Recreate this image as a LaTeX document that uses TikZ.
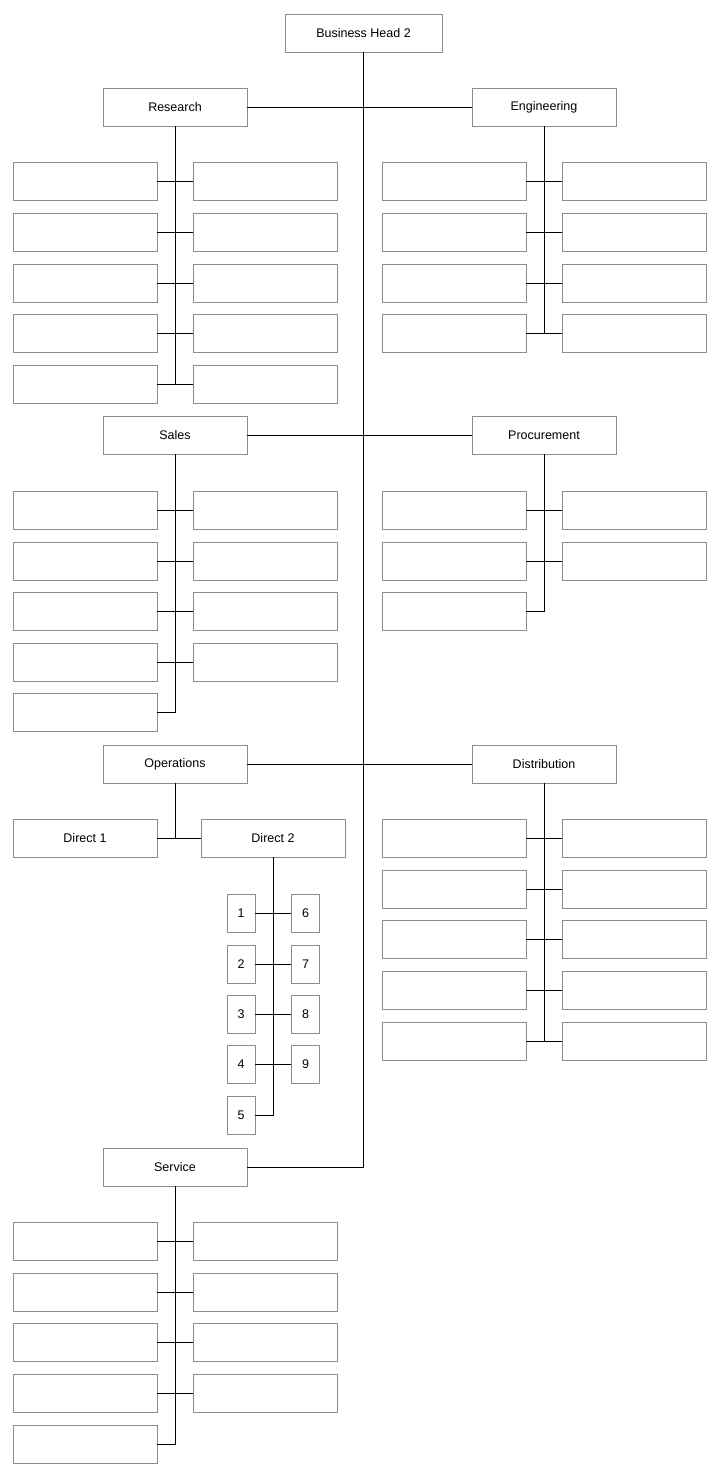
\documentclass[tikz,border=0pt]{standalone}
\usepackage{fontspec}
\setmainfont{Liberation Sans}
\begin{document}
\begin{tikzpicture}[x=1pt,y=-1pt,
  box/.style={draw=black!45,line width=0.9pt,minimum width=144pt,minimum height=38pt,inner sep=0pt,font=\fontsize{12.5}{14}\selectfont},
  sq/.style={box,minimum width=28pt},
  ln/.style={line width=0.9pt}]
\useasboundingbox (0,0) rectangle (724,1477);
\node[box,minimum width=157pt] (bh) at (363.5,33) {Business Head 2};
% departments
\node[box] (res) at (175,107) {Research};
\node[box] (eng) at (544,107) {Engineering};
\node[box] (sal) at (175,435) {Sales};
\node[box] (pro) at (544,435) {Procurement};
\node[box] (ops) at (175,764) {Operations};
\node[box] (dis) at (544,764) {Distribution};
\node[box] (ser) at (175,1167) {Service};
\coordinate (tb) at (363.5,1167);
\draw[ln] (bh.south) -- (tb) -- (ser.east);
\draw[ln] (res.east) -- (eng.west);
\draw[ln] (sal.east) -- (pro.west);
\draw[ln] (ops.east) -- (dis.west);
% Research
\foreach \i/\y in {1/181,2/232,3/283,4/333,5/384}{
  \node[box] (rl\i) at (85,\y) {}; \node[box] (rr\i) at (265,\y) {};
  \draw[ln] (rl\i.east) -- (rr\i.west);}
\draw[ln] (res.south) -- (175,384);
% Engineering
\foreach \i/\y in {1/181,2/232,3/283,4/333}{
  \node[box] (el\i) at (454,\y) {}; \node[box] (er\i) at (634,\y) {};
  \draw[ln] (el\i.east) -- (er\i.west);}
\draw[ln] (eng.south) -- (544,333);
% Sales
\foreach \i/\y in {1/510,2/561,3/611,4/662}{
  \node[box] (sl\i) at (85,\y) {}; \node[box] (sr\i) at (265,\y) {};
  \draw[ln] (sl\i.east) -- (sr\i.west);}
\node[box] (sl5) at (85,712) {};
\draw[ln] (sal.south) -- (175,712) -- (sl5.east);
% Procurement
\foreach \i/\y in {1/510,2/561}{
  \node[box] (pl\i) at (454,\y) {}; \node[box] (pr\i) at (634,\y) {};
  \draw[ln] (pl\i.east) -- (pr\i.west);}
\node[box] (pl3) at (454,611) {};
\draw[ln] (pro.south) -- (544,611) -- (pl3.east);
% Operations
\node[box] (d1) at (85,838) {Direct 1};
\node[box] (d2) at (273,838) {Direct 2};
\draw[ln] (ops.south) -- (175,838);
\draw[ln] (d1.east) -- (d2.west);
\foreach \i/\j/\y in {1/6/913,2/7/964,3/8/1014,4/9/1064}{
  \node[sq] (n\i) at (241,\y) {\i}; \node[sq] (n\j) at (305.5,\y) {\j};
  \draw[ln] (n\i.east) -- (n\j.west);}
\node[sq] (n5) at (241,1115) {5};
\draw[ln] (d2.south) -- (273,1115) -- (n5.east);
% Distribution
\foreach \i/\y in {1/838,2/889,3/939,4/990,5/1041}{
  \node[box] (dl\i) at (454,\y) {}; \node[box] (dr\i) at (634,\y) {};
  \draw[ln] (dl\i.east) -- (dr\i.west);}
\draw[ln] (dis.south) -- (544,1041);
% Service
\foreach \i/\y in {1/1241,2/1292,3/1342,4/1393}{
  \node[box] (vl\i) at (85,\y) {}; \node[box] (vr\i) at (265,\y) {};
  \draw[ln] (vl\i.east) -- (vr\i.west);}
\node[box] (vl5) at (85,1444) {};
\draw[ln] (ser.south) -- (175,1444) -- (vl5.east);
\end{tikzpicture}
\end{document}
